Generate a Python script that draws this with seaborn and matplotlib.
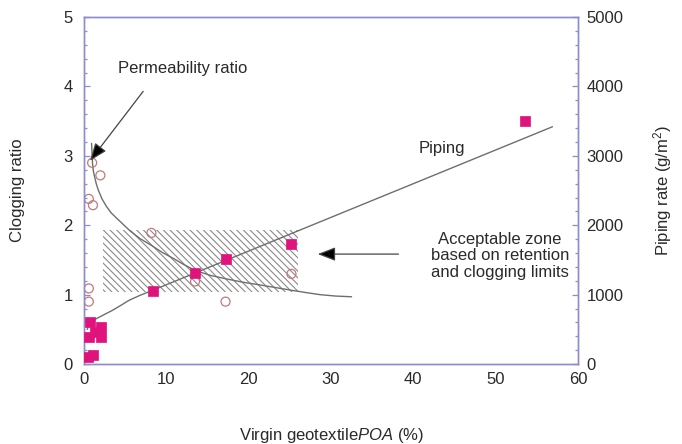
import numpy as np
import pandas as pd
import matplotlib
matplotlib.use("Agg")
import matplotlib.pyplot as plt
import seaborn as sns

# ---------------- data ----------------
clog_x = [1.0, 2.0, 0.6, 1.1, 0.6, 0.6, 8.2, 13.5, 17.2, 25.2]
clog_y = [2.90, 2.72, 2.38, 2.29, 1.09, 0.90, 1.89, 1.19, 0.90, 1.30]

pipe_x = [0.7, 2.1, 1.4, 0.6, 2.1, 0.5, 1.1, 8.4, 13.5, 17.2, 25.2, 53.6]
pipe_y = [610, 538, 456, 394, 384, 105, 130, 1056, 1316, 1508, 1729, 3500]

# fitted trend curves
perm_x = [0.93, 1.0, 1.05, 1.15, 1.3, 1.5, 1.74, 2.2, 2.75, 3.3, 4.0, 4.8, 5.6, 6.8,
          8.2, 9.5, 10.9, 12.2, 13.5, 15.3, 17.2, 19.3, 21.4, 23.4, 25.4, 27.0,
          28.7, 30.6, 32.5]
perm_y = [3.18, 3.02, 2.89, 2.78, 2.70, 2.60, 2.51, 2.38, 2.27, 2.18, 2.10, 2.01,
          1.92, 1.81, 1.71, 1.61, 1.52, 1.43, 1.35, 1.28, 1.23, 1.18, 1.14, 1.10,
          1.06, 1.03, 1.00, 0.98, 0.97]

pline_x = [0.4, 0.6, 0.8, 1.05, 1.3, 1.7, 2.1, 2.7, 3.4, 4.4, 5.5, 6.8, 8.3, 56.9]
pline_y = [500, 555, 590, 620, 640, 667, 690, 728, 770, 840, 920, 990, 1060, 3420]

# acceptable zone (x range, clogging ratio range)
zone_x = [2.35, 26.05]
zone_lo = [1.04, 1.04]
zone_hi = [1.93, 1.93]

x_ticks = [0, 10, 20, 30, 40, 50, 60]
y_ticks = [0, 1, 2, 3, 4, 5]
y2_ticks = [0, 1000, 2000, 3000, 4000, 5000]

# ---------------- style ----------------
sns.set_theme(style="white")
plt.rcParams["font.family"] = ["Liberation Sans", "DejaVu Sans"]
plt.rcParams["mathtext.fontset"] = "custom"
plt.rcParams["mathtext.rm"] = "Liberation Sans"
plt.rcParams["mathtext.it"] = "Liberation Sans:italic"
plt.rcParams["hatch.linewidth"] = 0.8

spine_col = "#8c8cd0"
txt_col = "#2a2a2a"
line_col = "#6e6e6e"
pink = "#e0127c"
circ_col = "#c27a7a"
fs = 12

fig = plt.figure(figsize=(6.82, 4.44), dpi=100)
ax = fig.add_axes([0.123, 0.180, 0.7245, 0.7815])
ax2 = ax.twinx()

# hatched acceptable zone
ax.fill_between(zone_x, zone_lo, zone_hi, facecolor="none", edgecolor="#8a8a8a",
                hatch="\\\\\\\\\\", linewidth=0, zorder=1)

# permeability ratio curve + clogging ratio points
sns.lineplot(x=perm_x, y=perm_y, ax=ax, color=line_col, linewidth=1.0, sort=False,
             estimator=None, zorder=2)
sns.scatterplot(x=clog_x, y=clog_y, ax=ax, marker="o", s=42, facecolor="none",
                edgecolor=circ_col, linewidth=0.9, zorder=3)

# piping line + points
sns.lineplot(x=pline_x, y=pline_y, ax=ax2, color=line_col, linewidth=1.0, sort=False,
             estimator=None, zorder=2)
sns.scatterplot(x=pipe_x, y=pipe_y, ax=ax2, marker="s", s=50, color=pink,
                edgecolor=pink, linewidth=0.5, zorder=4)

# axes limits / ticks
ax.set_xlim(0, 60)
ax.set_ylim(0, 5)
ax2.set_ylim(0, 5000)
ax.set_xticks(x_ticks)
ax.set_yticks(y_ticks)
ax2.set_yticks(y2_ticks)
ax.set_xticks(np.arange(0, 61, 2), minor=True)
ax.set_yticks(np.arange(0, 5.01, 0.2), minor=True)
ax2.set_yticks(np.arange(0, 5001, 200), minor=True)

for a in (ax, ax2):
    for s in a.spines.values():
        s.set_color(spine_col)
        s.set_linewidth(1.0)
    a.tick_params(which="both", direction="in", color=spine_col, labelcolor=txt_col,
                  labelsize=fs, width=0.9)
    a.tick_params(which="major", length=4.5)
    a.tick_params(which="minor", length=2.5)
ax.tick_params(axis="x", which="both", top=False, pad=6)
ax.tick_params(axis="y", which="both", left=True, right=False, pad=8)
ax2.tick_params(axis="y", which="both", right=True, left=False, pad=6)

ax.set_xlabel("Virgin geotextile$\\it{POA}$ (%)", fontsize=fs, color=txt_col, labelpad=28)
ax.set_ylabel("Clogging ratio", fontsize=fs, color=txt_col, labelpad=28)
ax2.set_ylabel("Piping rate (g/m$^2$)", fontsize=fs, color=txt_col, labelpad=20)

# annotations
ax.annotate("", xy=(0.75, 2.93), xytext=(7.2, 3.93),
            arrowprops=dict(arrowstyle="-|>,head_length=0.9,head_width=0.35",
                            color="#444444", lw=0.9, shrinkA=0, shrinkB=0,
                            fc="black"))
ax.text(4.2, 4.26, "Permeability ratio", fontsize=fs, color=txt_col, ha="left", va="center")
ax.text(40.6, 3.11, "Piping", fontsize=fs, color=txt_col, ha="left", va="center")
ax.annotate("", xy=(28.4, 1.585), xytext=(38.2, 1.585),
            arrowprops=dict(arrowstyle="-|>,head_length=0.9,head_width=0.35",
                            color="#444444", lw=0.9, shrinkA=0, shrinkB=0,
                            fc="black"))
ax.text(50.5, 1.56, "Acceptable zone\nbased on retention\nand clogging limits",
        fontsize=fs, color=txt_col, ha="center", va="center", linespacing=1.15)

fig.savefig("out.png", dpi=100)
